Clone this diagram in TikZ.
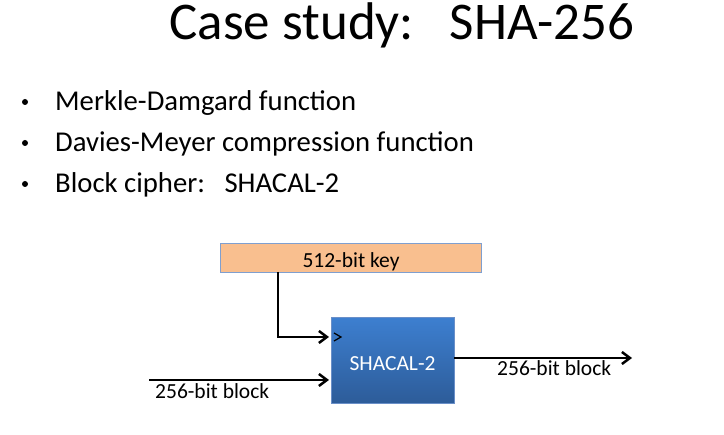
\documentclass[tikz,border=0pt]{standalone}
\usepackage{fontspec}
\setmainfont{Carlito}
\usetikzlibrary{arrows.meta}
\definecolor{keyfill}{HTML}{F9BF8F}
\definecolor{keyline}{HTML}{7F9FCF}
\definecolor{boxtop}{HTML}{3D7FD0}
\definecolor{boxbot}{HTML}{2D5C99}
\definecolor{boxline}{HTML}{6A8FC8}
\tikzset{
  conn/.style={line width=2.8pt,-{Straight Barb[length=8pt,width=12pt,line width=2.5pt]}},
  lbl/.style={font=\fontsize{21.5}{21.5}\selectfont,inner sep=0pt,anchor=base west},
  bul/.style={font=\fontsize{28.7}{28.7}\selectfont,inner sep=0pt,anchor=base west},
}
\begin{document}
\begin{tikzpicture}[x=1pt,y=-1pt]
\useasboundingbox (0,0) rectangle (724,435);
\node[font=\fontsize{53}{53}\selectfont,inner sep=0pt,anchor=base] (title) at (402,40) {Case study:\ \ \ SHA-256};
\node[bul] (b1) at (55,111) {Merkle-Damgard function};
\node[bul] (b2) at (55,152) {Davies-Meyer compression function};
\node[bul] (b3) at (55,193) {Block cipher:\ \ \ SHACAL-2};
\foreach \y/\n in {111/d1,152/d2,193/d3}
  \node[fill=black,circle,inner sep=0pt,minimum size=6pt] (\n) at (25,\y-9) {};
\node[draw=keyline,fill=keyfill,line width=0.8pt,minimum width=261pt,minimum height=29pt,inner sep=0pt,anchor=north west] (key) at (220,243) {};
\node[lbl,anchor=base] (keyt) at (351,268) {512-bit key};
\node[draw=boxline,line width=0.8pt,top color=boxtop,bottom color=boxbot,minimum width=123pt,minimum height=86pt,inner sep=0pt,anchor=north west] (sha) at (331,317) {};
\node[lbl,anchor=base,text=white] (shat) at (392.5,371) {SHACAL-2};
\coordinate (kin) at (278,272);
\coordinate (kc) at (278,337);
\coordinate (ktip) at (329,337);
\draw[conn] (kin) -- (kc) -- (ktip);
\draw[line width=1.2pt] (334,333) -- (341,337) -- (334,341);
\coordinate (inS) at (149,380);
\coordinate (inE) at (329,380);
\draw[conn] (inS) -- (inE);
\coordinate (outS) at (454,358);
\coordinate (outE) at (632,358);
\draw[conn] (outS) -- (outE);
\node[lbl] (inl) at (155,399) {256-bit block};
\node[lbl] (outl) at (497,376) {256-bit block};
\end{tikzpicture}
\end{document}
